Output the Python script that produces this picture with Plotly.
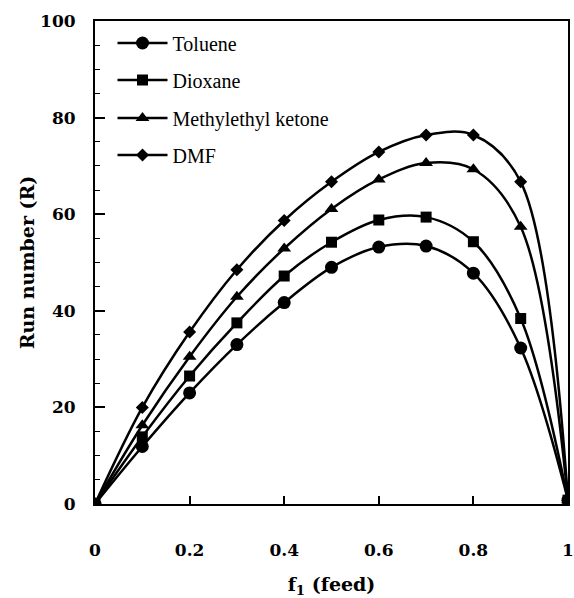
import plotly.graph_objects as go

feed = [0, 0.1, 0.2, 0.3, 0.4, 0.5, 0.6, 0.7, 0.8, 0.9, 1.0]
toluene = [0, 11.9, 23.0, 33.0, 41.7, 49.0, 53.2, 53.4, 47.8, 32.3, 0.8]
dioxane = [0, 13.9, 26.5, 37.5, 47.2, 54.2, 58.8, 59.4, 54.3, 38.4, 0.8]
mek = [0, 16.3, 30.5, 42.9, 52.9, 61.1, 67.2, 70.6, 69.3, 57.4, 0.8]
dmf = [0, 20.0, 35.6, 48.5, 58.7, 66.7, 72.9, 76.4, 76.4, 66.7, 0.8]

names = ["Toluene", "Dioxane", "Methylethyl ketone", "DMF"]
series = [toluene, dioxane, mek, dmf]
symbols = ["circle", "square", "triangle-up", "diamond"]
sizes = [13, 11, 12, 10]

xticks = [0, 0.2, 0.4, 0.6, 0.8, 1.0]
xticklabels = ["0", "0.2", "0.4", "0.6", "0.8", "1"]
yticks = [0, 20, 40, 60, 80, 100]

fig = go.Figure()
legend_ids = ["legend", "legend2", "legend3", "legend4"]
for name, vals, sym, sz, lg in zip(names, series, symbols, sizes, legend_ids):
    fig.add_trace(go.Scatter(
        x=feed, y=vals, name=name, mode="lines+markers",
        line=dict(color="black", width=2.5, shape="spline", smoothing=1.0),
        marker=dict(symbol=sym, size=sz, color="black"),
        legend=lg,
    ))

serif = "Liberation Serif"
bold = "DejaVu Serif"

def leg(ypos):
    return dict(x=0.037, y=ypos, xanchor="left", yanchor="middle",
                bgcolor="rgba(0,0,0,0)", borderwidth=0, itemwidth=50,
                font=dict(family=serif, size=20, color="black"))

plot_top = 21
plot_h = 483
leg_px = [43, 80, 118, 155]
legs = [leg(1 - (p - plot_top) / plot_h) for p in leg_px]

fig.update_layout(
    width=574, height=598,
    margin=dict(l=95, r=6, t=21, b=94, autoexpand=False),
    paper_bgcolor="white", plot_bgcolor="white",
    showlegend=True,
    legend=legs[0], legend2=legs[1], legend3=legs[2], legend4=legs[3],
    xaxis=dict(
        range=[0, 1], tickvals=xticks, ticktext=xticklabels,
        ticks="inside", ticklen=8, tickwidth=1.5, tickcolor="black",
        showline=True, linecolor="black", linewidth=2, mirror=True,
        showgrid=False, zeroline=False, automargin=False,
        tickfont=dict(family=bold, size=17, color="black", weight="bold"),
        ticklabelstandoff=30,
        title=dict(text="f<sub>1</sub> (feed)", standoff=22,
                   font=dict(family=bold, size=19, color="black", weight="bold")),
    ),
    yaxis=dict(
        range=[0, 100], tickvals=yticks,
        ticks="inside", ticklen=10, tickwidth=1.5, tickcolor="black",
        minor=dict(dtick=5, ticks="inside", ticklen=5, tickwidth=1.2, tickcolor="black"),
        showline=True, linecolor="black", linewidth=2, mirror=True,
        showgrid=False, zeroline=False, automargin=False,
        tickfont=dict(family=bold, size=17, color="black", weight="bold"),
        ticklabelstandoff=14,
        title=dict(text="Run number (R)", standoff=0,
                   font=dict(family=bold, size=19, color="black", weight="bold")),
    ),
)

fig.write_html("out.html")
